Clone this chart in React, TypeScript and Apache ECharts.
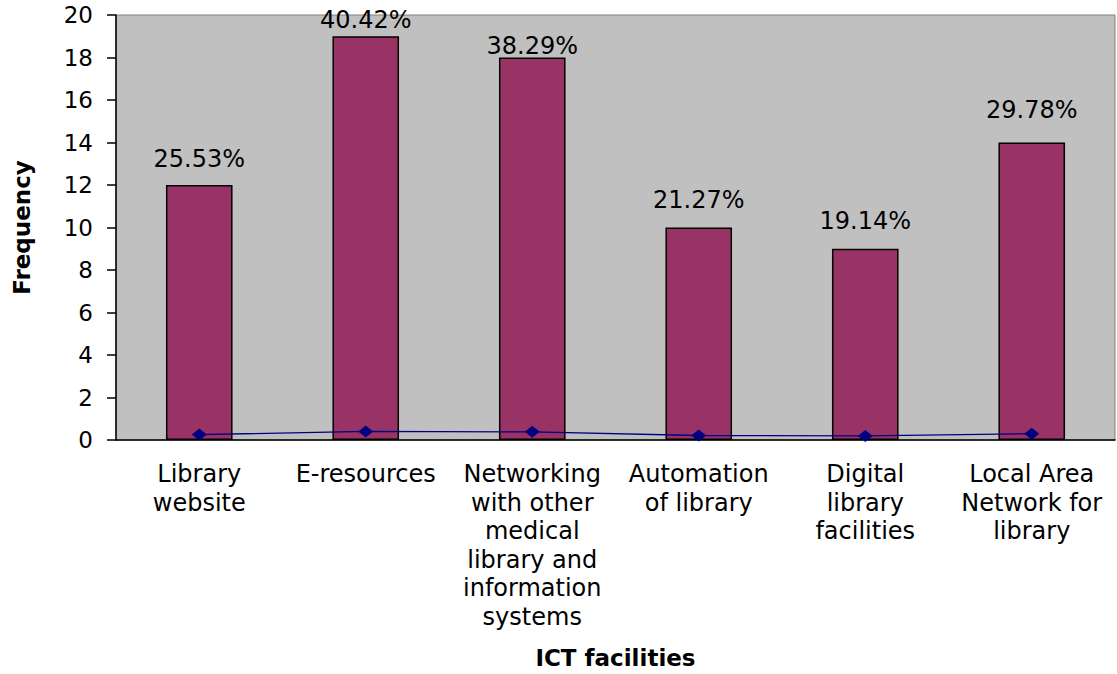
import React, { useEffect, useRef } from "react";
import * as echarts from "echarts";

const categories = [
  "Library\nwebsite",
  "E-resources",
  "Networking\nwith other\nmedical\nlibrary and\ninformation\nsystems",
  "Automation\nof library",
  "Digital\nlibrary\nfacilities",
  "Local Area\nNetwork for\nlibrary",
];
const frequency = [12, 19, 18, 10, 9, 14];
const percentLabels = ["25.53%", "40.42%", "38.29%", "21.27%", "19.14%", "29.78%"];
const proportion = [0.2553, 0.4042, 0.3829, 0.2127, 0.1914, 0.2978];
const labelGaps = [14, 4, 0, 16, 16, 21];

const FONT = "DejaVu Sans, Verdana, sans-serif";

export default function App() {
  const ref = useRef<HTMLDivElement>(null);
  useEffect(() => {
    const chart = echarts.init(ref.current!, null, { renderer: "svg" });
    chart.setOption({
      animation: false,
      textStyle: { fontFamily: FONT },
      grid: {
        left: 116,
        right: 2,
        top: 15,
        bottom: 674 - 442,
        show: true,
        backgroundColor: "#C0C0C0",
        borderColor: "#808080",
        borderWidth: 1,
      },
      xAxis: {
        type: "category",
        data: categories,
        name: "ICT facilities",
        nameLocation: "middle",
        nameGap: 206,
        nameTextStyle: { fontSize: 23, fontWeight: "bold", color: "#000", fontFamily: FONT },
        axisLine: { lineStyle: { color: "#000", width: 1.5 } },
        axisTick: { length: 10, lineStyle: { color: "#000", width: 1.5 } },
        axisLabel: {
          fontSize: 24,
          color: "#000",
          lineHeight: 28.5,
          margin: 20,
          interval: 0,
          fontFamily: FONT,
        },
      },
      yAxis: {
        type: "value",
        min: 0,
        max: 20,
        interval: 2,
        name: "Frequency",
        nameLocation: "middle",
        nameGap: 83,
        nameTextStyle: { fontSize: 23, fontWeight: "bold", color: "#000", fontFamily: FONT },
        axisLine: { show: true, lineStyle: { color: "#000", width: 1.5 } },
        axisTick: { show: true, length: 9, lineStyle: { color: "#000", width: 1.5 } },
        axisLabel: { fontSize: 23, color: "#000", margin: 23, fontFamily: FONT },
        splitLine: { show: false },
      },
      series: [
        {
          type: "bar",
          barWidth: "40%",
          data: frequency.map((v, i) => ({
            value: v,
            label: {
              show: true,
              position: "top",
              distance: labelGaps[i],
              formatter: percentLabels[i],
              fontSize: 24,
              color: "#000",
              fontFamily: FONT,
            },
          })),
          itemStyle: { color: "#993366", borderColor: "#000", borderWidth: 1.5 },
        },
        {
          type: "line",
          data: proportion,
          symbol: "diamond",
          symbolSize: [15, 12],
          lineStyle: { color: "#000080", width: 1.3 },
          itemStyle: { color: "#000080" },
          z: 5,
        },
      ],
    });
    return () => chart.dispose();
  }, []);
  return (
    <div
      ref={ref}
      style={{ position: "absolute", left: 0, top: 0, width: 1117, height: 674, background: "#fff" }}
    />
  );
}
